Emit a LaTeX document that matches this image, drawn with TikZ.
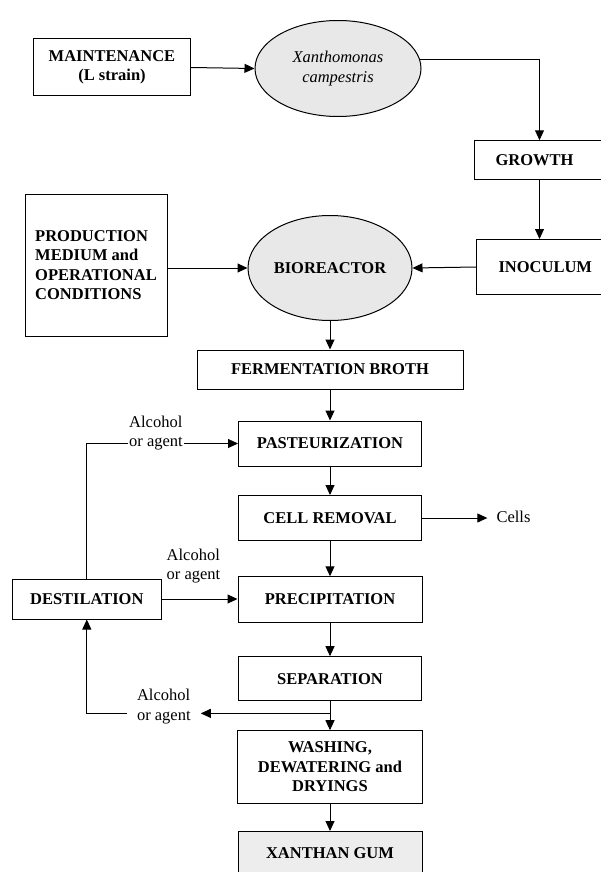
\documentclass[tikz,border=0pt]{standalone}
\usepackage{fontspec}
\setmainfont{Liberation Serif}
\usetikzlibrary{arrows.meta,shapes.geometric}

\definecolor{cellgray}{gray}{0.91}
\definecolor{gumgray}{gray}{0.93}
\newcommand{\flowsize}{\fontsize{16.5}{19.5}\selectfont}

\begin{document}
\begin{tikzpicture}[x=1pt, y=-1pt,
    procbox/.style={draw, line width=1pt, align=center, inner sep=0pt,
        font=\flowsize\bfseries},
    cellell/.style={draw, ellipse, fill=cellgray, line width=1pt,
        align=center, inner sep=0pt},
    note/.style={align=left, inner sep=1pt, font=\flowsize},
    flow/.style={line width=1pt, -{Triangle[length=10pt,width=9pt]}}]
    \useasboundingbox (0,0) rectangle (601,872);
    \clip (0,0) rectangle (601,872);

    % strain and inoculum
    \node[procbox, minimum width=157, minimum height=57] (maint)
        at (112,67.5) {MAINTENANCE\\(L strain)};
    \node[cellell, minimum width=166, minimum height=96,
        font=\flowsize\itshape] (xanth) at (338,68.5) {Xanthomonas\\campestris};
    \node[procbox, anchor=west, minimum height=38.5, text width=88,
        align=left, inner xsep=21] (growth) at (474,160) {GROWTH};
    \node[procbox, anchor=west, minimum height=55, text width=96,
        align=left, inner xsep=22] (inoc) at (476,267) {INOCULUM};
    \node[procbox, minimum width=142, minimum height=142, align=left] (prod)
        at (96,265) {PRODUCTION\\MEDIUM and\\OPERATIONAL\\CONDITIONS};
    \node[cellell, minimum width=164, minimum height=105,
        font=\flowsize\bfseries] (bio) at (330,268) {BIOREACTOR};

    % downstream column
    \node[procbox, minimum width=266, minimum height=39] (broth)
        at (330,369.5) {FERMENTATION BROTH};
    \node[procbox, minimum width=183, minimum height=45] (past)
        at (330,443.5) {PASTEURIZATION};
    \node[procbox, minimum width=183, minimum height=45] (cellrem)
        at (330,518) {CELL REMOVAL};
    \node[procbox, minimum width=184, minimum height=45.5] (precip)
        at (330,599.5) {PRECIPITATION};
    \node[procbox, minimum width=183.5, minimum height=44] (sep)
        at (330,678.7) {SEPARATION};
    \node[procbox, minimum width=185, minimum height=72.6] (wash)
        at (330,767) {WASHING,\\DEWATERING and\\DRYINGS};
    \node[procbox, anchor=north, fill=gumgray, minimum width=184,
        text height=26.5, text depth=30] (gum) at (330,831) {XANTHAN GUM};

    % recovery
    \node[procbox, minimum width=148.4, minimum height=40] (dest)
        at (86.8,599) {DESTILATION};
    \node[note, inner xsep=9] (cells) at (513.5,517) {Cells};
    \node[note] (agent2) at (193.5,566) {Alcohol\\or agent};
    \node[note, inner xsep=10] (agent3) at (163.8,706.3) {Alcohol\\or agent};

    \draw[flow] (maint.east) -- (xanth.west);
    \draw[flow] (xanth.6) -| (growth.north);
    \draw[flow] (growth.south) -- (growth.south |- inoc.north);
    \draw[flow] (inoc.west) -- (bio.east);
    \draw[flow] (prod.east |- bio) -- (bio.west);
    \foreach \a/\b in {bio/broth, broth/past, past/cellrem, cellrem/precip,
        precip/sep, sep/wash, wash/gum}
        \draw[flow] (\a.south) -- (\b.north);
    \draw[flow] (cellrem.east) -- (cellrem.east -| cells.west);
    \draw[flow] (dest.east) -- (dest.east -| precip.west);
    \draw[flow] (dest.north) |- (past.west);
    \path (sep.south) -- (wash.north) coordinate[pos=0.42] (junc);
    \draw[flow] (junc) -- (junc -| agent3.east);
    \draw[flow] (junc -| agent3.west) -| (dest.south);

    \node[note, fill=white] (agent1) at (156,433.3) {Alcohol\\or agent};
\end{tikzpicture}
\end{document}
